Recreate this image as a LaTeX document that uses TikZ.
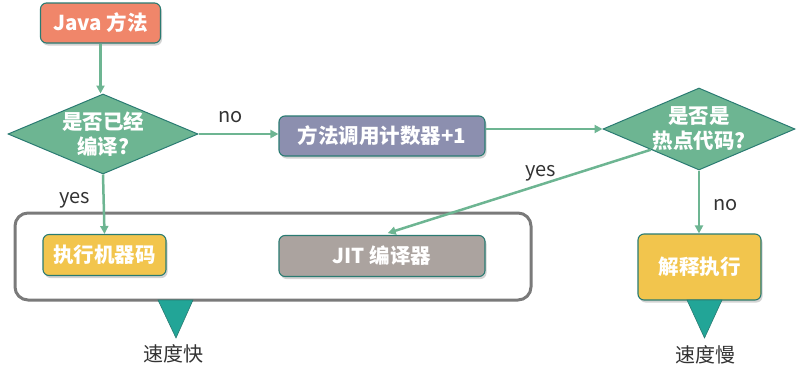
\documentclass[tikz,border=0pt]{standalone}
\usepackage{fontspec}
\setmainfont{Noto Sans CJK SC}
\usepackage{tikz}
\usetikzlibrary{arrows.meta,shapes.geometric,shadows}
\definecolor{flowgreen}{HTML}{6DB592}
\definecolor{edgeteal}{HTML}{2A7B72}
\definecolor{javacolor}{HTML}{F0866A}
\definecolor{countcolor}{HTML}{8C8FAF}
\definecolor{jitcolor}{HTML}{ABA39F}
\definecolor{runcolor}{HTML}{F2C54D}
\definecolor{pointcolor}{HTML}{22A597}
\definecolor{labelgray}{HTML}{333333}
\tikzset{stepbox/.style={draw=edgeteal,line width=1.1pt,rounded corners=6pt,inner sep=0pt,text=white,font=\fontsize{20.5}{24}\selectfont\bfseries,drop shadow={shadow xshift=1.5pt,shadow yshift=-2.5pt,opacity=.35}},decision/.style={diamond,draw=edgeteal,line width=1pt,fill=flowgreen,inner sep=0pt},decision text/.style={text=white,align=center,font=\fontsize{20.5}{25}\selectfont\bfseries},flow/.style={-{Triangle[length=8pt,width=8pt]},draw=flowgreen,line width=2.5pt},branch label/.style={text=labelgray,font=\fontsize{20}{24}\selectfont},group/.style={draw=black!52,line width=3pt,rounded corners=13pt,inner sep=0pt},speed/.style={fill=pointcolor,draw=edgeteal,line width=.6pt}}

\begin{document}
\begin{tikzpicture}[x=1pt,y=-1pt]
 \useasboundingbox (0,0) rectangle (803,380);
 % the fast path box goes first, under everything else
 \node[group,minimum width=516pt,minimum height=87pt] (fastpath) at (273,256.5) {};
 \node[stepbox,fill=javacolor,minimum width=120pt,minimum height=40pt] (java) at (100.5,23) {Java 方法};
 \node[decision,minimum width=190pt,minimum height=80pt,label={[decision text]center:是否已经\\编译?}] (compiled) at (103,134) {};
 \node[stepbox,fill=countcolor,minimum width=206pt,minimum height=40pt] (counter) at (382,136) {方法调用计数器+1};
 \node[decision,minimum width=192pt,minimum height=82pt,label={[decision text]center:是否是\\热点代码?}] (hot) at (699,129) {};
 \node[stepbox,fill=runcolor,minimum width=123pt,minimum height=41pt] (machine) at (104.5,255) {执行机器码};
 \node[stepbox,fill=jitcolor,minimum width=206pt,minimum height=41pt] (jit) at (382,256) {JIT 编译器};
 \node[stepbox,fill=runcolor,minimum width=123pt,minimum height=66pt] (interp) at (699.5,267) {解释执行};
 \draw[flow] (java.south) -- (java.south |- compiled.north);
 \draw[flow] (compiled.east) -- node[branch label,above=7pt,pos=.4] {no} (counter.west |- compiled.east);
 \draw[flow] (counter.east |- hot.west) -- (hot.west);
 \draw[flow] (compiled.south) -- node[branch label,left=9pt,pos=.44] {yes} (machine.north);
 \draw[flow,shorten >=6pt] (hot.south west) -- node[branch label,above=-1pt,pos=.41] {yes} (jit.north);
 \draw[flow] (hot.south) -- node[branch label,right=10pt,pos=.55] {no} (hot.south |- interp.north);
 % speed markers
 \draw[speed] (158,300) -- (193,300) -- (176,338) -- cycle;
 \draw[speed] (687,300) -- (722,300) -- (704.5,338) -- cycle;
 \node[branch label] (fast) at (173,354) {速度快};
 \node[branch label] (slow) at (705,355) {速度慢};
\end{tikzpicture}
\end{document}
